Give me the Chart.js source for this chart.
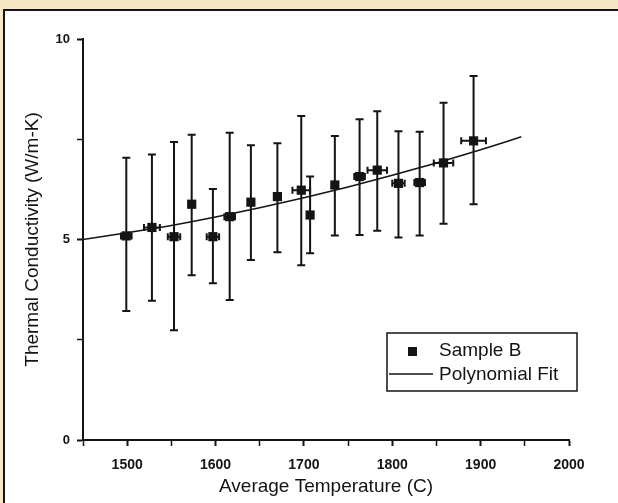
<!DOCTYPE html>
<html>
<head>
<meta charset="utf-8">
<title>Thermal Conductivity - Sample B</title>
<script src="https://cdn.jsdelivr.net/npm/chart.js@4.4.1/dist/chart.umd.min.js"></script>
<style>
    body { margin: 0; background: #f5e6c6; overflow: hidden; }
    #moldura { position: absolute; left: 3px; top: 9px; width: 640px; height: 520px; background: #fff; border: 2px solid #141414; }
    #meuGrafico { position: absolute; left: 0; top: 0; }
</style>
</head>
<body>
<div id="moldura"></div>
<canvas id="meuGrafico" width="618" height="503"></canvas>
<script>
// Dados (Sample B)
const temperaturas = [1499, 1528, 1553, 1573, 1597, 1616, 1640, 1670, 1697, 1707, 1735, 1763, 1783, 1807, 1831, 1858, 1892];
const condutividade = [5.09, 5.30, 5.07, 5.88, 5.07, 5.57, 5.93, 6.07, 6.23, 5.61, 6.36, 6.57, 6.73, 6.40, 6.42, 6.91, 7.46];
const erroSuperior = [7.04, 7.12, 7.43, 7.61, 6.26, 7.66, 7.35, 7.40, 8.08, 6.57, 7.58, 8.00, 8.20, 7.70, 7.69, 8.41, 9.08];
const erroInferior = [3.22, 3.47, 2.74, 4.11, 3.91, 3.49, 4.49, 4.68, 4.36, 4.66, 5.10, 5.11, 5.22, 5.05, 5.10, 5.39, 5.88];
const erroTemperatura = [6, 9, 7, 0, 7, 6, 0, 0, 10, 0, 0, 6, 11, 7, 6, 11, 14];

// Curva do ajuste polinomial
const ajusteTemperaturas = [1450, 1500, 1550, 1600, 1650, 1700, 1750, 1800, 1850, 1900, 1946];
const ajusteValores = [5.00, 5.17, 5.35, 5.56, 5.79, 6.04, 6.31, 6.60, 6.91, 7.24, 7.56];

// Rótulos dos eixos
const rotulosX = [1500, 1600, 1700, 1800, 1900, 2000];
const rotulosY = [0, 5, 10];

const corTexto = '#141414';

// Plugin para desenhar as barras de erro
const barrasDeErro = {
    id: 'barrasDeErro',
    beforeDatasetsDraw(chart) {
        const ctx = chart.ctx;
        const x = chart.scales.x;
        const y = chart.scales.y;
        ctx.save();
        ctx.strokeStyle = corTexto;
        ctx.lineWidth = 2;
        temperaturas.forEach((t, i) => {
            const px = x.getPixelForValue(t);
            const py = y.getPixelForValue(condutividade[i]);
            const topo = y.getPixelForValue(erroSuperior[i]);
            const base = y.getPixelForValue(erroInferior[i]);
            ctx.beginPath();
            ctx.moveTo(px, topo); ctx.lineTo(px, base);
            ctx.moveTo(px - 4, topo); ctx.lineTo(px + 4, topo);
            ctx.moveTo(px - 4, base); ctx.lineTo(px + 4, base);
            if (erroTemperatura[i] > 0) {
                const esq = x.getPixelForValue(t - erroTemperatura[i]);
                const dir = x.getPixelForValue(t + erroTemperatura[i]);
                ctx.moveTo(esq, py); ctx.lineTo(dir, py);
                ctx.moveTo(esq, py - 3.5); ctx.lineTo(esq, py + 3.5);
                ctx.moveTo(dir, py - 3.5); ctx.lineTo(dir, py + 3.5);
            }
            ctx.stroke();
        });
        ctx.restore();
    }
};

// Plugin da legenda com moldura, dentro da área do gráfico
const legendaCaixa = {
    id: 'legendaCaixa',
    afterDraw(chart) {
        const ctx = chart.ctx;
        const area = chart.chartArea;
        const esq = area.right - 182;
        const topo = area.bottom - 107;
        ctx.save();
        ctx.strokeStyle = corTexto;
        ctx.lineWidth = 1.5;
        ctx.strokeRect(esq, topo, 190, 58);
        // marcador
        ctx.fillStyle = corTexto;
        ctx.fillRect(esq + 21, topo + 14, 9, 9);
        // linha
        ctx.beginPath();
        ctx.moveTo(esq + 2, topo + 41);
        ctx.lineTo(esq + 46, topo + 41);
        ctx.stroke();
        ctx.font = '19px "Liberation Sans", Arial, sans-serif';
        ctx.textBaseline = 'middle';
        ctx.fillText('Sample B', esq + 52, topo + 18);
        ctx.fillText('Polynomial Fit', esq + 52, topo + 42);
        ctx.restore();
    }
};

const config = {
    type: 'scatter',
    data: {
        datasets: [
            {
                label: 'Sample B',
                data: temperaturas.map((t, i) => ({ x: t, y: condutividade[i] })),
                pointStyle: 'rect',
                pointRadius: 6.5,
                pointHoverRadius: 6.5,
                backgroundColor: corTexto,
                borderColor: corTexto,
                borderWidth: 0,
                showLine: false
            },
            {
                label: 'Polynomial Fit',
                type: 'line',
                data: ajusteTemperaturas.map((t, i) => ({ x: t, y: ajusteValores[i] })),
                borderColor: corTexto,
                borderWidth: 1.6,
                pointRadius: 0,
                cubicInterpolationMode: 'monotone',
                fill: false
            }
        ]
    },
    options: {
        responsive: false,
        animation: false,
        layout: {
            padding: { top: 39, right: 49, bottom: 0, left: 0 }
        },
        plugins: {
            legend: { display: false },
            tooltip: { enabled: false }
        },
        scales: {
            x: {
                type: 'linear',
                min: 1450,
                max: 2000,
                afterFit: function (scale) { scale.height = 63; },
                ticks: {
                    stepSize: 50,
                    padding: 11,
                    maxRotation: 0,
                    color: corTexto,
                    font: { family: '"Liberation Sans", Arial, sans-serif', size: 14, weight: 'bold' },
                    callback: function (valor) { return rotulosX.includes(valor) ? valor : ''; }
                },
                grid: {
                    drawOnChartArea: false,
                    drawTicks: true,
                    tickLength: 6,
                    tickColor: corTexto,
                    tickWidth: function (c) { return rotulosX.includes(c.tick.value) ? 2 : 1.5; }
                },
                border: { display: true, color: corTexto, width: 2 },
                title: {
                    display: true,
                    text: 'Average Temperature (C)',
                    color: corTexto,
                    font: { family: '"Liberation Sans", Arial, sans-serif', size: 19 },
                    padding: { top: 5, bottom: 5 }
                }
            },
            y: {
                min: 0,
                max: 10,
                afterFit: function (scale) { scale.width = 83; },
                ticks: {
                    stepSize: 2.5,
                    padding: 7,
                    color: corTexto,
                    font: { family: '"Liberation Sans", Arial, sans-serif', size: 13, weight: 'bold' },
                    callback: function (valor) { return rotulosY.includes(valor) ? valor : ''; }
                },
                grid: {
                    drawOnChartArea: false,
                    drawTicks: true,
                    tickLength: 6,
                    tickColor: corTexto,
                    tickWidth: function (c) { return rotulosY.includes(c.tick.value) ? 2 : 1.5; }
                },
                border: { display: true, color: corTexto, width: 2 },
                title: {
                    display: true,
                    text: 'Thermal Conductivity (W/m-K)',
                    color: corTexto,
                    font: { family: '"Liberation Sans", Arial, sans-serif', size: 19 },
                    padding: { top: 21, bottom: 21 }
                }
            }
        }
    },
    plugins: [barrasDeErro, legendaCaixa]
};

// Inicializar gráfico
let meuGrafico = new Chart(document.getElementById('meuGrafico'), config);
</script>
</body>
</html>
